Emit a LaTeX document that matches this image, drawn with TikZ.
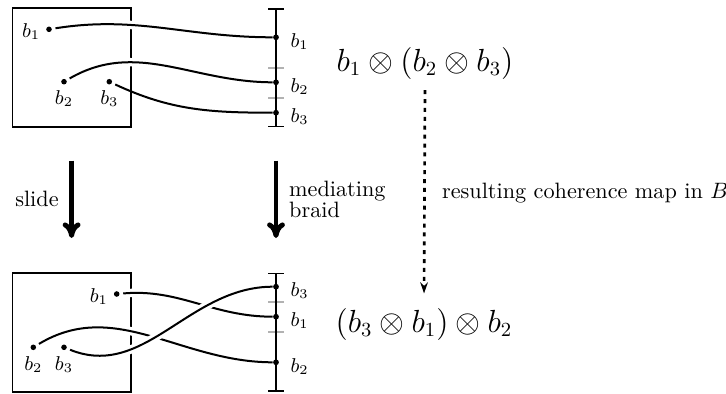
\documentclass[tikz,border=0pt]{standalone}
\usepackage{amsmath,amssymb}
\usepackage{tikz}
\usetikzlibrary{arrows.meta,positioning,calc}

\begin{document}
\begin{tikzpicture}[
  x=0.45pt,y=0.45pt,
  frame/.style={line width=0.8pt},
  strand/.style={line width=0.9pt},
  over/.style={strand,preaction={draw=white,line width=3.8pt}},
  pt/.style={circle,fill,inner sep=0pt,minimum size=2.5pt},
  endpt/.style={circle,fill,inner sep=0pt,minimum size=2.6pt},
  bar/.style={line width=0.8pt,{Bar[width=6.8pt]}-{Bar[width=6.8pt]}},
  cut/.style={gray!60,line width=0.8pt},
  bigarr/.style={line width=2.2pt,-{To[length=7pt,width=8pt]}},
  coh/.style={line width=1.2pt,dash pattern=on 1.8pt off 2.2pt,
    -{Stealth[length=5pt,width=3.4pt]}},
  lbl/.style={font=\small},
  expr/.style={font=\fontsize{13.5}{16}\selectfont},
]
\useasboundingbox (0,0) rectangle (726,-393);

% top: before sliding
\draw[frame] (12.5,-8.3) rectangle (130.7,-127.3);
\draw[cut] (268,-67.7) -- (284,-67.7);
\draw[cut] (268,-97.7) -- (284,-97.7);
\draw[bar] (276,-8.3) -- (276,-127.3);
\node[pt,label={[lbl,label distance=-1pt,yshift=-1pt]left:$b_1$}] (u1) at (49,-29.3) {};
\node[pt,label={[lbl,label distance=-1pt]below:$b_2$}] (u2) at (64,-81.7) {};
\node[pt,label={[lbl,label distance=-1pt]below:$b_3$}] (u3) at (109.3,-81.7) {};
\node[endpt,label={[lbl,label distance=1.5pt,yshift=-1.8pt]right:$b_1$}] (v1) at (276,-37.3) {};
\node[endpt,label={[lbl,label distance=1.5pt,yshift=-1.8pt]right:$b_2$}] (v2) at (276,-82.3) {};
\node[endpt,label={[lbl,label distance=1.5pt,yshift=-1.8pt]right:$b_3$}] (v3) at (276,-112.7) {};
\draw[strand,shorten <=1.5pt] (u3) to[out=-25,in=180] (v3);
\draw[over,shorten <=1.5pt] (u1) to[out=9,in=180] (v1);
\draw[over,shorten <=1.5pt] (u2) to[out=30,in=180] (v2);

% bottom: after sliding
\draw[frame] (12.5,-272.7) rectangle (130.7,-391.7);
\draw[cut] (268,-302.3) -- (284,-302.3);
\draw[cut] (268,-331.7) -- (284,-331.7);
\draw[bar] (276,-272.7) -- (276,-391.7);
\node[pt,label={[lbl,label distance=-1pt,yshift=-1pt]left:$b_1$}] (p1) at (116.7,-294) {};
\node[pt,label={[lbl,label distance=-1pt]below:$b_2$}] (p2) at (33.3,-347.3) {};
\node[pt,label={[lbl,label distance=-1pt]below:$b_3$}] (p3) at (64,-347.3) {};
\node[endpt,label={[lbl,label distance=1.5pt,yshift=-1.8pt]right:$b_3$}] (q3) at (276,-286.7) {};
\node[endpt,label={[lbl,label distance=1.5pt,yshift=-1.8pt]right:$b_1$}] (q1) at (276,-316.7) {};
\node[endpt,label={[lbl,label distance=1.5pt,yshift=-1.8pt]right:$b_2$}] (q2) at (276,-362.3) {};
\draw[over,shorten <=1.5pt] (p1) to[out=5,in=180] (q1);
\draw[over,shorten <=1.5pt] (p2) to[out=31,in=180] (q2);
\draw[over,shorten <=1.5pt] (p3) to[out=-22,in=180] (q3);

% the two moves
\coordinate (s0) at (71.6,-160.7);
\coordinate (s1) at (71.6,-238);
\coordinate (m0) at (276,-160.7);
\coordinate (m1) at (276,-238);
\draw[bigarr] (s0) -- node[left,xshift=-1.4pt] {slide} (s1);
\draw[bigarr] (m0) -- node[right,align=left,xshift=1.5pt] {mediating\\[-2.2pt]braid} (m1);

% tensor expressions
\node[expr] (top) at (425,-63) {$b_1\otimes(b_2\otimes b_3)$};
\node[expr] (bot) at (424,-324) {$(b_3\otimes b_1)\otimes b_2$};
\draw[coh,shorten <=1.5pt,shorten >=3pt] (top.south) -- node[right,xshift=4pt] {resulting coherence map in $B$} (bot.north);
\end{tikzpicture}
\end{document}
